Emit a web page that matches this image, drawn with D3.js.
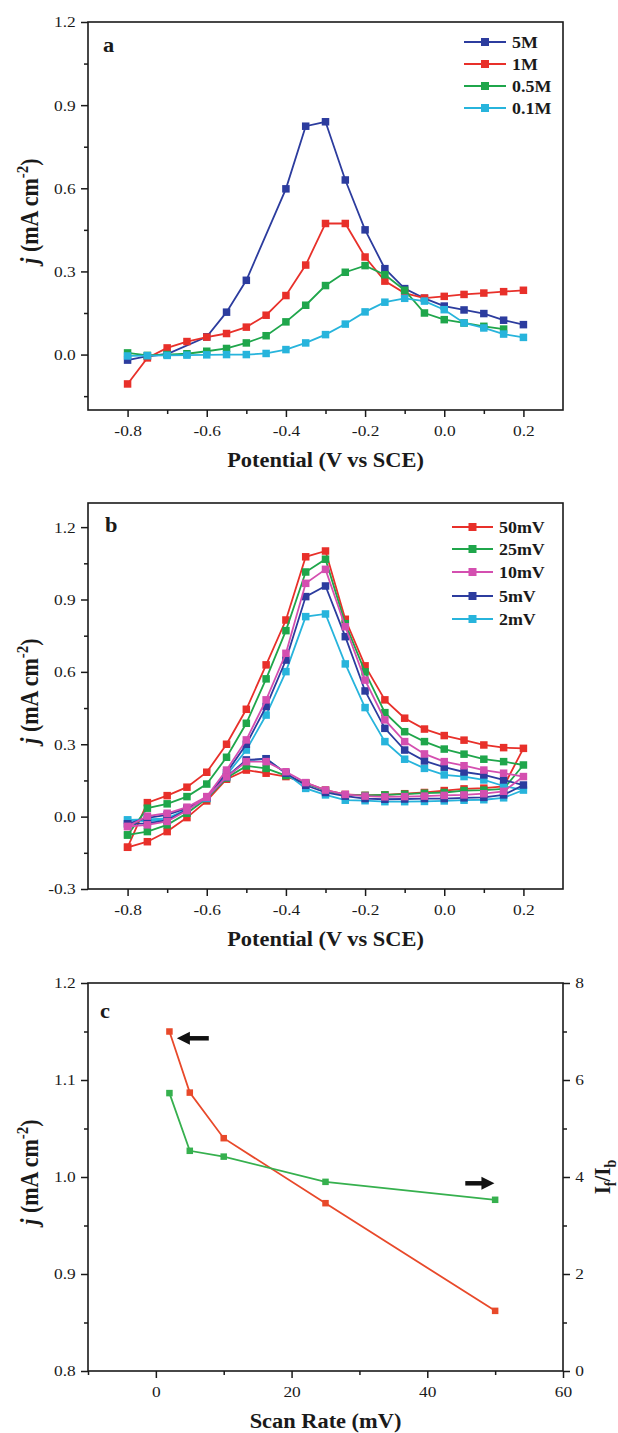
<!DOCTYPE html>
<html>
<head>
<meta charset="utf-8">
<script src="https://cdn.jsdelivr.net/npm/d3@7"></script>
<style>
  body { margin: 0; background: #fff; }
  svg { display: block; }
  text { font-family: "Liberation Serif", "Times New Roman", serif; fill: #1a1a1a; }
</style>
</head>
<body>
<svg id="chart" width="618" height="1433"></svg>
<script>
// ---------- panel a: effect of methanol concentration ----------
const potA = [-0.8, -0.75, -0.7, -0.65, -0.6, -0.55, -0.5, -0.45, -0.4, -0.35, -0.3,
              -0.25, -0.2, -0.15, -0.1, -0.05, 0, 0.05, 0.1, 0.15, 0.2];
const j5M  = [-0.02, -0.006, 0.002, null, 0.064, 0.153, 0.268, null, 0.598, 0.824, 0.84,
              0.63, 0.45, 0.31, 0.238, 0.203, 0.175, 0.161, 0.148, 0.124, 0.108];
const j1M  = [-0.106, -0.012, 0.024, 0.047, 0.063, 0.076, 0.099, 0.142, 0.213, 0.323, 0.473,
              0.473, 0.352, 0.265, 0.222, 0.204, 0.21, 0.217, 0.222, 0.227, 0.232];
const j05M = [0.006, -0.003, 0.0, 0.003, 0.012, 0.022, 0.042, 0.068, 0.118, 0.178, 0.249,
              0.297, 0.321, 0.288, 0.232, 0.15, 0.126, 0.114, 0.102, 0.092, null];
const j01M = [-0.005, -0.004, -0.003, -0.002, -0.001, 0.0, 0.0, 0.004, 0.018, 0.042, 0.072,
              0.11, 0.154, 0.189, 0.203, 0.193, 0.162, 0.114, 0.096, 0.074, 0.062];
const concLabels = ["5M", "1M", "0.5M", "0.1M"];

// ---------- panel b: CV loops at different scan rates ----------
// forward scan -0.8 -> 0.2, then reverse scan 0.15 -> -0.8
const potB = [-0.8, -0.75, -0.7, -0.65, -0.6, -0.55, -0.5, -0.45, -0.4, -0.35, -0.3,
              -0.25, -0.2, -0.15, -0.1, -0.05, 0, 0.05, 0.1, 0.15, 0.2,
              0.15, 0.1, 0.05, 0, -0.05, -0.1, -0.15, -0.2, -0.25, -0.3,
              -0.35, -0.4, -0.45, -0.5, -0.55, -0.6, -0.65, -0.7, -0.75, -0.8];
const j50mV = [-0.127, 0.058, 0.087, 0.122, 0.184, 0.30, 0.445, 0.629, 0.815, 1.077, 1.101,
               0.818, 0.625, 0.484, 0.408, 0.363, 0.336, 0.317, 0.297, 0.286, 0.283,
               0.125, 0.118, 0.115, 0.108, 0.1, 0.095, 0.09, 0.088, 0.092, 0.11,
               0.14, 0.166, 0.18, 0.193, 0.155, 0.065, -0.004, -0.062, -0.104, -0.127];
const j25mV = [-0.076, 0.035, 0.053, 0.083, 0.135, 0.246, 0.387, 0.571, 0.771, 1.014, 1.067,
               0.80, 0.60, 0.431, 0.352, 0.311, 0.28, 0.259, 0.238, 0.228, 0.214,
               0.115, 0.11, 0.108, 0.1, 0.097, 0.093, 0.09, 0.088, 0.09, 0.108,
               0.138, 0.17, 0.2, 0.21, 0.16, 0.075, 0.014, -0.034, -0.062, -0.076];
const j10mV = [-0.041, 0.002, 0.014, 0.039, 0.083, 0.193, 0.318, 0.484, 0.677, 0.967, 1.025,
               0.787, 0.566, 0.401, 0.311, 0.26, 0.228, 0.211, 0.193, 0.18, 0.166,
               0.105, 0.095, 0.09, 0.088, 0.085, 0.083, 0.082, 0.085, 0.092, 0.11,
               0.141, 0.186, 0.228, 0.228, 0.165, 0.08, 0.025, -0.02, -0.034, -0.041];
const j5mV  = [-0.03, -0.005, 0.007, 0.035, 0.08, 0.182, 0.30, 0.456, 0.649, 0.912, 0.956,
               0.746, 0.521, 0.366, 0.276, 0.231, 0.205, 0.185, 0.173, 0.152, 0.131,
               0.09, 0.08, 0.078, 0.075, 0.075, 0.073, 0.072, 0.075, 0.085, 0.1,
               0.13, 0.18, 0.24, 0.235, 0.165, 0.08, 0.028, -0.015, -0.028, -0.03];
const j2mV  = [-0.014, -0.012, -0.007, 0.03, 0.076, 0.172, 0.276, 0.421, 0.601, 0.829, 0.84,
               0.633, 0.452, 0.311, 0.238, 0.2, 0.173, 0.166, 0.152, 0.127, 0.11,
               0.078, 0.07, 0.068, 0.065, 0.063, 0.062, 0.062, 0.066, 0.068, 0.09,
               0.117, 0.18, 0.24, 0.23, 0.165, 0.078, 0.03, -0.01, -0.02, -0.014];
const rateLabels = ["50mV", "25mV", "10mV", "5mV", "2mV"];

// ---------- panel c: peak current and If/Ib vs scan rate ----------
const scanRates = [2, 5, 10, 25, 50];
const peakJ     = [1.15, 1.087, 1.04, 0.973, 0.862];
const ratioIfIb = [5.73, 4.54, 4.42, 3.90, 3.53];

// ---------- setup ----------
const SX = 1.12;          // the source figure is slightly stretched horizontally
const X0 = 88, X1 = 563;
const C = { blue: "#2c3c9e", red: "#e8302a", green: "#1fa64b", cyan: "#27b4dc", pink: "#d44fb0",
            cRed: "#e8492a", cGreen: "#36b04e" };

const svg = d3.select("#chart");

function txt(g, x, y, str, size, bold, anchor) {
    return g.append("text")
        .attr("transform", `translate(${x},${y}) scale(${SX},1)`)
        .attr("font-size", size + "px")
        .attr("font-weight", bold ? "bold" : "normal")
        .attr("text-anchor", anchor || "start")
        .text(str);
}

function styleAxis(ax) {
    ax.select(".domain").remove();
    ax.selectAll("line").attr("stroke", "#1a1a1a").attr("stroke-width", 1.5);
    ax.selectAll("text").attr("font-size", "15.5px").attr("fill", "#1a1a1a")
        .attr("font-family", "Liberation Serif, serif")
        .attr("transform", `scale(${SX},1)`);
}

// axes + frame of one panel
function frame(x, y, o) {
    const g = svg.append("g");
    g.append("g").attr("transform", `translate(0,${o.bottom})`)
        .call(d3.axisBottom(x).tickValues(o.xMinor).tickSize(4).tickSizeOuter(0).tickFormat(""))
        .call(styleAxis);
    g.append("g").attr("transform", `translate(0,${o.bottom})`)
        .call(d3.axisBottom(x).tickValues(o.xTicks).tickSize(7).tickSizeOuter(0).tickPadding(8).tickFormat(o.xFmt))
        .call(styleAxis);
    g.append("g").attr("transform", `translate(${X0},0)`)
        .call(d3.axisLeft(y).tickValues(o.yMinor).tickSize(4).tickSizeOuter(0).tickFormat(""))
        .call(styleAxis);
    g.append("g").attr("transform", `translate(${X0},0)`)
        .call(d3.axisLeft(y).tickValues(o.yTicks).tickSize(7).tickSizeOuter(0).tickPadding(4).tickFormat(o.yFmt))
        .call(styleAxis);
    g.append("rect")
        .attr("x", X0).attr("y", o.top)
        .attr("width", X1 - X0).attr("height", o.bottom - o.top)
        .attr("fill", "none").attr("stroke", "#1a1a1a").attr("stroke-width", 1.6);

    // y title: j (mA cm-2)
    const cy = (o.top + o.bottom) / 2 - 5;
    const t = g.append("text")
        .attr("transform", `translate(38,${cy}) rotate(-90) scale(1,${SX})`)
        .attr("text-anchor", "middle")
        .attr("font-size", "22px").attr("font-weight", "bold");
    t.append("tspan").attr("font-style", "italic").text("j");
    t.append("tspan").text(" (mA cm");
    t.append("tspan").attr("font-size", "15px").attr("dy", -9).text("-2");
    t.append("tspan").attr("dy", 9).text(")");

    txt(g, (X0 + X1) / 2, o.bottom + 57, o.xTitle, 20, true, "middle");
    txt(g, o.letterX, o.letterY, o.letter, 20, true);
    return g;
}

function series(g, x, y, xs, ys, color, size) {
    const pts = xs.map((v, i) => [v, ys[i]]).filter(d => d[1] !== null);
    g.append("path")
        .datum(pts)
        .attr("fill", "none").attr("stroke", color).attr("stroke-width", 1.8)
        .attr("d", d3.line().x(d => x(d[0])).y(d => y(d[1])));
    g.selectAll(null).data(pts).enter().append("rect")
        .attr("x", d => x(d[0]) - size / 2).attr("y", d => y(d[1]) - size / 2)
        .attr("width", size).attr("height", size)
        .attr("fill", color);
}

function legend(g, items, lx0, lx1, tx, ys) {
    items.forEach((it, i) => {
        g.append("line").attr("x1", lx0).attr("x2", lx1).attr("y1", ys[i]).attr("y2", ys[i])
            .attr("stroke", it.color).attr("stroke-width", 1.8);
        g.append("rect").attr("x", (lx0 + lx1) / 2 - 4).attr("y", ys[i] - 4)
            .attr("width", 8).attr("height", 8).attr("fill", it.color);
        txt(g, tx, ys[i] + 5.5, it.label, 16, true);
    });
}

const fmt1 = v => v.toFixed(1);

// ---------- panel a ----------
{
    const o = { top: 22, bottom: 410 };
    const x = d3.scaleLinear().domain([-0.9, 0.3]).range([X0, X1]);
    const y = d3.scaleLinear().domain([-0.2, 1.2]).range([o.bottom, o.top]);
    const g = frame(x, y, Object.assign(o, {
        xTicks: [-0.8, -0.6, -0.4, -0.2, 0, 0.2], xMinor: [-0.7, -0.5, -0.3, -0.1, 0.1],
        yTicks: [0, 0.3, 0.6, 0.9, 1.2], yMinor: [-0.15, 0.15, 0.45, 0.75, 1.05],
        xFmt: fmt1, yFmt: fmt1, xTitle: "Potential (V vs SCE)",
        letter: "a", letterX: 103, letterY: 52
    }));
    series(g, x, y, potA, j5M, C.blue, 7.5);
    series(g, x, y, potA, j1M, C.red, 7.5);
    series(g, x, y, potA, j05M, C.green, 7.5);
    series(g, x, y, potA, j01M, C.cyan, 7.5);
    legend(g, [C.blue, C.red, C.green, C.cyan].map((c, i) => ({ color: c, label: concLabels[i] })),
        464, 506, 512, [42, 64, 86, 108]);
}

// ---------- panel b ----------
{
    const o = { top: 503, bottom: 889 };
    const x = d3.scaleLinear().domain([-0.9, 0.3]).range([X0, X1]);
    const y = d3.scaleLinear().domain([-0.3, 1.3]).range([o.bottom, o.top]);
    const g = frame(x, y, Object.assign(o, {
        xTicks: [-0.8, -0.6, -0.4, -0.2, 0, 0.2], xMinor: [-0.7, -0.5, -0.3, -0.1, 0.1],
        yTicks: [-0.3, 0, 0.3, 0.6, 0.9, 1.2], yMinor: [-0.15, 0.15, 0.45, 0.75, 1.05],
        xFmt: fmt1, yFmt: fmt1, xTitle: "Potential (V vs SCE)",
        letter: "b", letterX: 105, letterY: 532
    }));
    series(g, x, y, potB, j50mV, C.red, 7.5);
    series(g, x, y, potB, j25mV, C.green, 7.5);
    series(g, x, y, potB, j2mV, C.cyan, 7.5);
    series(g, x, y, potB, j5mV, C.blue, 7.5);
    series(g, x, y, potB, j10mV, C.pink, 7.5);
    legend(g, [C.red, C.green, C.pink, C.blue, C.cyan].map((c, i) => ({ color: c, label: rateLabels[i] })),
        452, 493, 499, [527, 549, 572, 596, 619]);
}

// ---------- panel c ----------
{
    const o = { top: 983, bottom: 1371 };
    const x = d3.scaleLinear().domain([-10, 60]).range([X0, X1]);
    const y = d3.scaleLinear().domain([0.8, 1.2]).range([o.bottom, o.top]);
    const y2 = d3.scaleLinear().domain([0, 8]).range([o.bottom, o.top]);
    const g = frame(x, y, Object.assign(o, {
        xTicks: [0, 20, 40, 60], xMinor: [-10, 10, 30, 50],
        yTicks: [0.8, 0.9, 1.0, 1.1, 1.2], yMinor: [0.85, 0.95, 1.05, 1.15],
        xFmt: d => d, yFmt: fmt1, xTitle: "Scan Rate (mV)",
        letter: "c", letterX: 100, letterY: 1018
    }));
    // right axis
    g.append("g").attr("transform", `translate(${X1},0)`)
        .call(d3.axisRight(y2).tickValues([1, 3, 5, 7]).tickSize(4).tickSizeOuter(0).tickFormat(""))
        .call(styleAxis);
    g.append("g").attr("transform", `translate(${X1},0)`)
        .call(d3.axisRight(y2).tickValues([0, 2, 4, 6, 8]).tickSize(7).tickSizeOuter(0).tickPadding(4).tickFormat(d => d))
        .call(styleAxis);
    const t = g.append("text")
        .attr("transform", `translate(610,${(o.top + o.bottom) / 2}) rotate(-90) scale(1,${SX})`)
        .attr("text-anchor", "middle").attr("font-size", "21px").attr("font-weight", "bold");
    t.append("tspan").text("I");
    t.append("tspan").attr("font-size", "14px").attr("dy", 5).text("f");
    t.append("tspan").attr("dy", -5).text("/I");
    t.append("tspan").attr("font-size", "14px").attr("dy", 5).text("b");

    series(g, x, y, scanRates, peakJ, C.cRed, 6.5);
    series(g, x, y2, scanRates, ratioIfIb, C.cGreen, 6.5);

    // arrows pointing to the axis each curve belongs to
    const arrow = (xTail, xHead, yy) => {
        const dir = Math.sign(xHead - xTail);
        g.append("line").attr("x1", xTail).attr("x2", xHead - dir * 8).attr("y1", yy).attr("y2", yy)
            .attr("stroke", "#111").attr("stroke-width", 4.5);
        g.append("path")
            .attr("d", `M${xHead},${yy} L${xHead - dir * 13},${yy - 6.5} L${xHead - dir * 13},${yy + 6.5} Z`)
            .attr("fill", "#111");
    };
    arrow(x(7.8), x(3.1), y(1.143));
    arrow(x(45.6), x(49.9), y2(3.87));
}
</script>
</body>
</html>
